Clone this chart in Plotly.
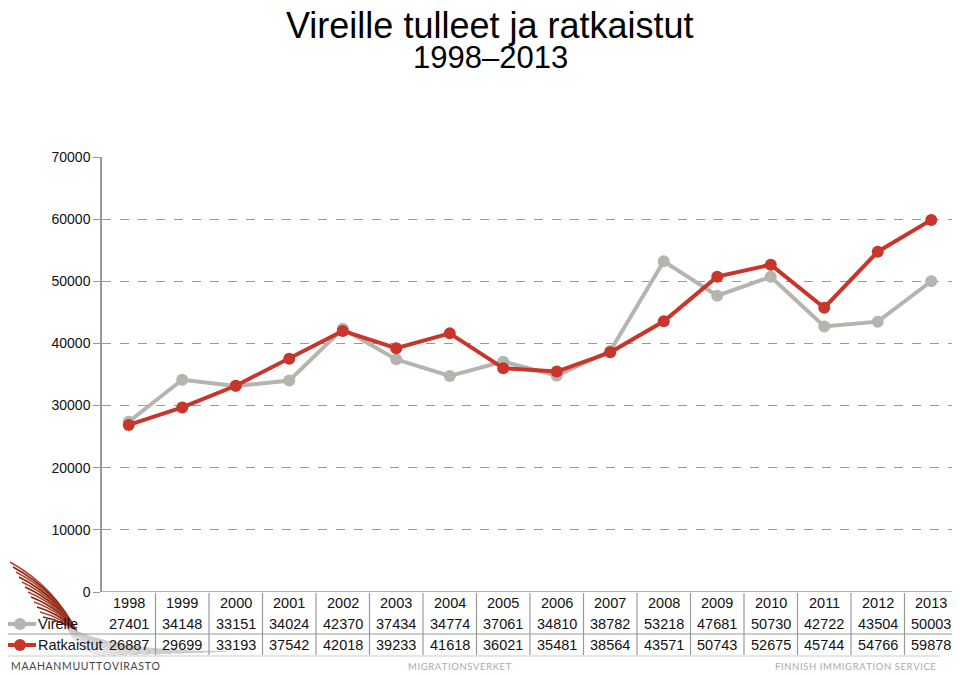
"""
Vireille tulleet ja ratkaistut 1998-2013, line chart with data table below.
"""
import plotly.graph_objects as go

years = ["1998", "1999", "2000", "2001", "2002", "2003", "2004", "2005",
         "2006", "2007", "2008", "2009", "2010", "2011", "2012", "2013"]
virelle = [27401, 34148, 33151, 34024, 42370, 37434, 34774, 37061,
           34810, 38782, 53218, 47681, 50730, 42722, 43504, 50003]
ratkaistut = [26887, 29699, 33193, 37542, 42018, 39233, 41618, 36021,
              35481, 38564, 43571, 50743, 52675, 45744, 54766, 59878]
y_ticks = [0, 10000, 20000, 30000, 40000, 50000, 60000, 70000]

GRAY = "#b5b4ae"
RED = "#c9352a"
# the page body adds 8px around the figure, so work in window pixels and shift
OFF = 8
W, H = 960 - OFF, 675 - OFF
L, R, T, B = 102 - OFF, 2, 157 - OFF, 675 - 592
PW, PH = W - L - R, H - T - B


def px(x):
    return (x - OFF - L) / PW


def py(y):
    return (H - B - (y - OFF)) / PH


def spaced(s):
    return "\u200a".join(s)


fig = go.Figure()
fig.add_trace(go.Scatter(
    x=list(range(len(years))), y=virelle, name="Virelle", mode="lines+markers",
    line={"color": GRAY, "width": 4}, marker={"color": GRAY, "size": 12},
    cliponaxis=False,
))
fig.add_trace(go.Scatter(
    x=list(range(len(years))), y=ratkaistut, name="Ratkaistut", mode="lines+markers",
    line={"color": RED, "width": 4}, marker={"color": RED, "size": 12},
    cliponaxis=False,
))

ann = []
shapes = []
FAM = "Liberation Sans, Arial, sans-serif"
font = {"family": FAM, "color": "#111", "size": 14.5}

# ── feather logo (decorative, drawn first so the table sits on top) ────────
for i in range(12):
    x0, y0 = 10 + i * 3, 562 + i * 5
    x1, y1 = 78, 634
    cx, cy = (x0 + x1) / 2 + 11 - i * 0.6, (y0 + y1) / 2 - 11 + i * 0.6
    shapes.append(dict(type="path", xref="paper", yref="paper", layer="below",
                       path=f"M {px(x0)},{py(y0)} Q {px(cx)},{py(cy)} {px(x1)},{py(y1)}",
                       line={"color": "#7c2616" if i % 2 else "#b8442c", "width": 1.6}))
for i in range(12):
    x1, y1 = 105 + i * 11, 656 - i * 0.4
    shapes.append(dict(type="path", xref="paper", yref="paper", layer="below",
                       path=f"M {px(66)},{py(626)} Q {px(78 + i * 3)},{py(652)} {px(x1)},{py(y1)}",
                       line={"color": "#c8c8c8", "width": 1}))

# ── data table ─────────────────────────────────────────────────────────────
rows = [(years, 603), ([str(v) for v in virelle], 624), ([str(v) for v in ratkaistut], 645)]
for vals, yy in rows:
    for i, v in enumerate(vals):
        ann.append(dict(x=i, y=py(yy), xref="x", yref="paper", text=v,
                        showarrow=False, font=font, xanchor="center", yanchor="middle"))
for k in range(1, len(years)):
    shapes.append(dict(type="line", xref="x", yref="paper", x0=k - 0.5, x1=k - 0.5,
                       y0=py(593), y1=py(655), line={"color": "#999", "width": 1.2}))
shapes.append(dict(type="line", xref="paper", yref="paper", x0=px(0), x1=px(960),
                   y0=py(634), y1=py(634), line={"color": "#999", "width": 1.2}))
shapes.append(dict(type="line", xref="paper", yref="paper", x0=px(0), x1=px(940),
                   y0=py(656), y1=py(656), line={"color": "#ccc", "width": 1.2}))

# ── legend keys in the table ───────────────────────────────────────────────
for color, yy, label in [(GRAY, 624, "Virelle"), (RED, 645, "Ratkaistut")]:
    shapes.append(dict(type="line", xref="paper", yref="paper", x0=px(4), x1=px(36),
                       y0=py(yy), y1=py(yy), line={"color": color, "width": 4}))
    shapes.append(dict(type="circle", xref="paper", yref="paper", x0=px(14), x1=px(26),
                       y0=py(yy + 6), y1=py(yy - 6), fillcolor=color, line={"width": 0}))
    ann.append(dict(x=px(36), y=py(yy), xref="paper", yref="paper", text=label,
                    showarrow=False, font=font, xanchor="left", yanchor="middle"))

# ── titles and footer ──────────────────────────────────────────────────────
ann.append(dict(x=px(490), y=py(8), xref="paper", yref="paper", text="Vireille tulleet ja ratkaistut",
                showarrow=False, xanchor="center", yanchor="top", yshift=5,
                font={"family": FAM, "size": 36, "color": "#000"}))
ann.append(dict(x=px(490), y=py(57), xref="paper", yref="paper", text="1998–2013",
                showarrow=False, xanchor="center", yanchor="middle",
                font={"family": FAM, "size": 31, "color": "#000"}))
footer = [("MAAHANMUUTTOVIRASTO", 9, "left", "#444", 10.5),
          ("MIGRATIONSVERKET", 460, "center", "#aaa", 9.5),
          ("FINNISH IMMIGRATION SERVICE", 938, "right", "#aaa", 9.5)]
for text, xx, anchor, color, size in footer:
    ann.append(dict(x=px(xx), y=py(666), xref="paper", yref="paper", text=spaced(text),
                    showarrow=False, xanchor=anchor, yanchor="middle",
                    font={"family": "Lato, Open Sans, sans-serif", "size": size, "color": color}))

fig.update_layout(
    width=W, height=H,
    margin={"l": L, "r": R, "t": T, "b": B},
    paper_bgcolor="white", plot_bgcolor="white",
    showlegend=False,
    annotations=ann, shapes=shapes,
    font=font,
)
fig.update_xaxes(
    range=[-0.5, len(years) - 0.5], showticklabels=False, showgrid=False,
    zeroline=False, showline=False, ticks="",
)
fig.update_yaxes(
    range=[0, 70000], tickvals=y_ticks, tickformat="d",
    showgrid=True, gridcolor="#999", griddash="dash", gridwidth=1.3,
    zeroline=False, showline=True, linecolor="#999", linewidth=1.5,
    ticks="outside", ticklen=7, tickcolor="#999", tickfont={"family": FAM, "size": 14, "color": "#111"},
)
fig.add_hline(y=0, line_color="#999", line_width=1.5)

fig.write_html("out.html")
